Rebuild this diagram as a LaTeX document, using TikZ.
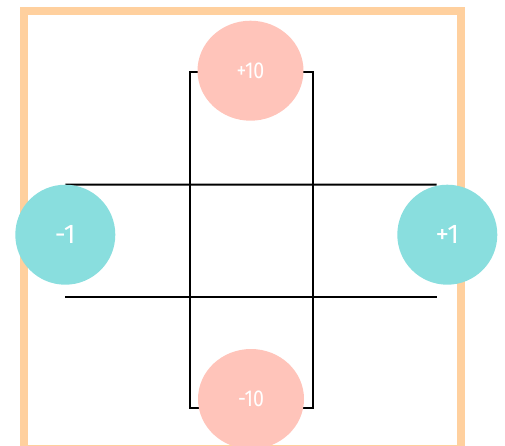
\documentclass[tikz,border=0pt]{standalone}
\usepackage{fontspec}
\setmainfont{Fira Sans}
\newfontfamily\narrowfont[FakeStretch=0.85]{Fira Sans}
\usetikzlibrary{shapes.geometric}
\definecolor{frameor}{HTML}{FFD09E}
\definecolor{pinkc}{HTML}{FFC4BA}
\definecolor{tealc}{HTML}{89DEDE}
\pgfdeclarelayer{bg}
\pgfsetlayers{bg,main}
\begin{document}
\begin{tikzpicture}[x=1pt,y=-1pt,
  pinknode/.style={ellipse, fill=pinkc, minimum width=106pt, minimum height=100pt, inner sep=0pt, text=white, font=\narrowfont\fontsize{23}{23}\selectfont},
  tealnode/.style={circle, fill=tealc, minimum size=100pt, inner sep=0pt, text=white, font=\fontsize{27}{27}\selectfont},
  wire/.style={line width=2pt, black}]
\useasboundingbox (0,0) rectangle (505,445);
\draw[frameor, line width=8pt] (24,11) rectangle (461,449);
\node[pinknode] (top) at (250.5,70.7) {+10};
\node[pinknode] (bot) at (251,399) {-10};
\node[tealnode] (left) at (65.3,234.7) {-1};
\node[tealnode] (right) at (447.3,234.7) {+1};
\begin{pgfonlayer}{bg}
\draw[wire] (top.center |- 0,72.3) -- (190,72.3) -- (190,407.7) -- (bot.center |- 0,407.7);
\draw[wire] (top.center |- 0,72.3) -- (312.7,72.3) -- (312.7,407.7) -- (bot.center |- 0,407.7);
\draw[wire] (left.north) -- (436.7,184.7);
\draw[wire] (left.center |- 0,296.7) -- (436.7,296.7);
\end{pgfonlayer}
\end{tikzpicture}
\end{document}
